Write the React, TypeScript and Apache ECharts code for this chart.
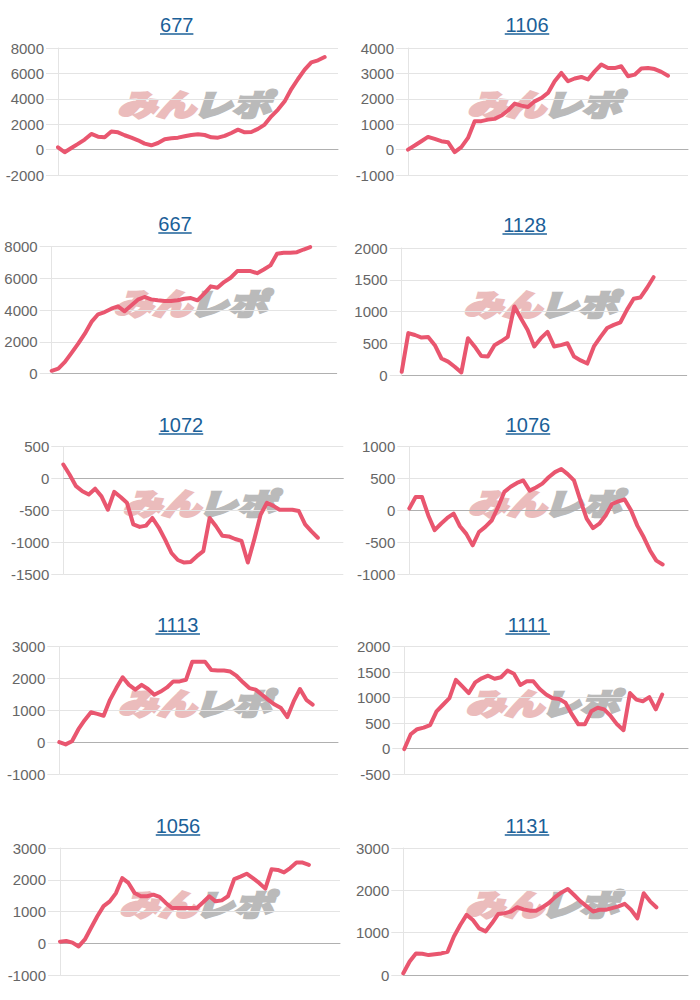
import React, { useEffect, useRef } from "react";
import * as echarts from "echarts";

// ---- data ----
const titles = ["677", "1106", "667", "1128", "1072", "1076", "1113", "1111", "1056", "1131"];

const s677 = [180, -210, 130, 450, 790, 1230, 1020, 970, 1420, 1360, 1130, 940, 730, 470, 340, 520, 810, 890, 940, 1050, 1150, 1210, 1150, 970, 940, 1080, 1310, 1570, 1360, 1390, 1630, 1970, 2620, 3150, 3800, 4770, 5560, 6300, 6870, 7030, 7290];
const s1106 = [0, 160, 330, 500, 420, 330, 290, -100, 100, 460, 1120, 1120, 1180, 1210, 1340, 1540, 1810, 1730, 1680, 1900, 2030, 2230, 2690, 3020, 2690, 2800, 2860, 2760, 3080, 3350, 3210, 3210, 3280, 2890, 2950, 3190, 3210, 3170, 3060, 2910];
const s667 = [170, 310, 730, 1300, 1880, 2510, 3250, 3730, 3870, 4080, 4230, 3920, 4290, 4650, 4820, 4670, 4610, 4560, 4560, 4610, 4710, 4750, 4610, 5030, 5490, 5400, 5760, 6030, 6450, 6450, 6450, 6320, 6550, 6810, 7540, 7600, 7600, 7640, 7810, 7960];
const s1128 = [50, 660, 630, 590, 600, 470, 260, 210, 130, 40, 580, 450, 300, 290, 470, 530, 600, 1080, 890, 710, 450, 580, 680, 450, 470, 500, 290, 230, 180, 450, 600, 740, 790, 830, 1030, 1200, 1220, 1370, 1540];
const s1072 = [220, 60, -120, -200, -250, -160, -280, -490, -210, -290, -380, -720, -760, -740, -620, -770, -960, -1170, -1280, -1320, -1310, -1220, -1140, -620, -750, -900, -910, -950, -980, -1320, -960, -570, -380, -430, -490, -490, -490, -510, -720, -830, -930];
const s1076 = [30, 210, 210, -80, -310, -210, -120, -50, -250, -370, -550, -340, -260, -160, 50, 290, 370, 430, 470, 310, 360, 420, 520, 600, 650, 570, 470, 160, -130, -280, -210, -80, 100, 140, 170, 0, -240, -420, -630, -790, -850];
const s1113 = [0, -70, 30, 400, 690, 940, 890, 830, 1330, 1700, 2040, 1800, 1650, 1800, 1670, 1490, 1590, 1720, 1910, 1910, 1960, 2530, 2530, 2530, 2270, 2250, 2250, 2220, 2080, 1880, 1700, 1650, 1490, 1330, 1180, 1070, 790, 1280, 1670, 1330, 1180];
const s1111 = [-10, 280, 380, 410, 460, 730, 860, 990, 1350, 1220, 1090, 1300, 1380, 1430, 1370, 1400, 1530, 1470, 1250, 1320, 1320, 1170, 1060, 990, 975, 900, 670, 475, 475, 730, 800, 770, 640, 475, 360, 1090, 960, 930, 1010, 770, 1060];
const s1056 = [50, 70, 20, -100, 120, 490, 850, 1170, 1320, 1580, 2050, 1900, 1580, 1480, 1480, 1530, 1460, 1270, 1110, 1110, 1110, 1110, 1110, 1290, 1480, 1320, 1350, 1480, 2020, 2100, 2190, 2050, 1900, 1720, 2330, 2310, 2230, 2370, 2540, 2540, 2470];
const s1131 = [40, 320, 510, 500, 470, 490, 510, 550, 910, 1180, 1420, 1300, 1100, 1030, 1220, 1440, 1460, 1500, 1600, 1550, 1520, 1520, 1600, 1700, 1840, 1950, 2030, 1890, 1740, 1620, 1500, 1540, 1540, 1580, 1620, 1680, 1540, 1340, 1930, 1740, 1600];

const seriesValues = [s677, s1106, s667, s1128, s1072, s1076, s1113, s1111, s1056, s1131];

const yMins = [-2000, -1000, 0, 0, -1500, -1000, -1000, -500, -1000, 0];
const yMaxs = [8000, 4000, 8000, 2000, 500, 1000, 3000, 2000, 3000, 3000];
const yIntervals = [2000, 1000, 2000, 500, 500, 500, 1000, 500, 1000, 1000];
// number of day slots on the hidden x axis
const slotCounts = [42, 42, 43, 43, 44, 44, 44, 44, 45, 45];

// ---- layout (positions only) ----
// [plotLeft, plotRight, plotTop, plotBottom, titleX, titleBaseline]
const layout = [
  [58, 338, 48, 175, 176.7, 32],
  [408, 688, 48, 175, 527, 32],
  [51.7, 336.7, 246.5, 373.5, 175, 231],
  [401.7, 686.7, 248, 375, 524.7, 232],
  [63.3, 343.3, 446.7, 574, 181, 432],
  [409.3, 688, 446.7, 574, 528, 432],
  [59.3, 338, 646.7, 774, 177.7, 632],
  [404.3, 688, 646.7, 774, 527.7, 632],
  [60, 340, 848, 975, 178, 833],
  [403.3, 688, 848, 975, 527, 833],
];

const LINE_COLOR = "#e9566f";
const TITLE_COLOR = "#1b6098";
const GRID_COLOR = "#e4e4e4";
const ZERO_COLOR = "#b0b0b0";
const FONT = "'Liberation Sans', Arial, Helvetica, sans-serif";
const WM_FONT = "italic 900 30px 'Noto Sans CJK JP', sans-serif";
const WM_PINK = "#ebbcbc";
const WM_GRAY = "#bababa";

export default function App() {
  const ref = useRef<HTMLDivElement>(null);

  useEffect(() => {
    if (!ref.current) return;
    const chart = echarts.init(ref.current, undefined, { renderer: "svg" });

    const grids: any[] = [];
    const xAxes: any[] = [];
    const yAxes: any[] = [];
    const series: any[] = [];
    const graphics: any[] = [];

    titles.forEach((t, i) => {
      const [l, r, top, bottom, tx, tb] = layout[i];
      grids.push({ left: l, top, width: r - l, height: bottom - top, containLabel: false });
      const cats = Array.from({ length: slotCounts[i] + 1 }, (_, k) => String(k + 1));
      xAxes.push({
        type: "category",
        gridIndex: i,
        data: cats,
        boundaryGap: false,
        axisLabel: { show: false },
        axisTick: { show: false },
        splitLine: { show: false },
        axisLine: { show: true, onZero: true, lineStyle: { color: ZERO_COLOR, width: 1 } },
      });
      yAxes.push({
        type: "value",
        gridIndex: i,
        min: yMins[i],
        max: yMaxs[i],
        interval: yIntervals[i],
        axisLine: { show: true, onZero: false, lineStyle: { color: GRID_COLOR, width: 1 } },
        axisTick: { show: true, length: 12, lineStyle: { color: GRID_COLOR } },
        axisLabel: {
          color: "#666",
          fontSize: 15,
          fontFamily: FONT,
          margin: 14,
          formatter: (v: number) => String(v),
        },
        splitLine: { show: true, lineStyle: { color: GRID_COLOR, width: 1 } },
      });
      series.push({
        type: "line",
        xAxisIndex: i,
        yAxisIndex: i,
        data: seriesValues[i],
        showSymbol: false,
        symbol: "none",
        lineStyle: { color: LINE_COLOR, width: 4, join: "round", cap: "round" },
        z: 3,
      });

      // title + underline
      const w = t.length * 11.12;
      graphics.push({
        type: "text",
        x: tx,
        y: tb - 7,
        z: 5,
        style: {
          text: t,
          fill: TITLE_COLOR,
          font: `20px ${FONT}`,
          align: "center",
          verticalAlign: "middle",
        },
      });
      graphics.push({
        type: "line",
        z: 5,
        shape: { x1: tx - w / 2, y1: tb + 2, x2: tx + w / 2, y2: tb + 2 },
        style: { stroke: TITLE_COLOR, lineWidth: 1.5 },
      });

      // watermark
      const cx = (l + r) / 2 - 4;
      const cy = (top + bottom) / 2 - 8;
      graphics.push({
        type: "group",
        x: cx,
        y: cy,
        scaleX: 1.3,
        z: 1,
        children: [
          {
            type: "text",
            x: 1,
            y: 0,
            style: {
              text: "みん",
              fill: WM_PINK,
              stroke: WM_PINK,
              lineWidth: 2.5,
              font: WM_FONT,
              align: "right",
              verticalAlign: "middle",
            },
          },
          {
            type: "text",
            x: -1,
            y: 0,
            style: {
              text: "レポ",
              fill: WM_GRAY,
              stroke: WM_GRAY,
              lineWidth: 2.5,
              font: WM_FONT,
              align: "left",
              verticalAlign: "middle",
            },
          },
        ],
      });
    });

    chart.setOption({
      animation: false,
      backgroundColor: "#ffffff",
      grid: grids,
      xAxis: xAxes,
      yAxis: yAxes,
      series,
      graphic: { elements: graphics },
    });

    return () => chart.dispose();
  }, []);

  return (
    <div
      ref={ref}
      style={{ position: "absolute", left: 0, top: 0, width: 700, height: 1000 }}
    />
  );
}
